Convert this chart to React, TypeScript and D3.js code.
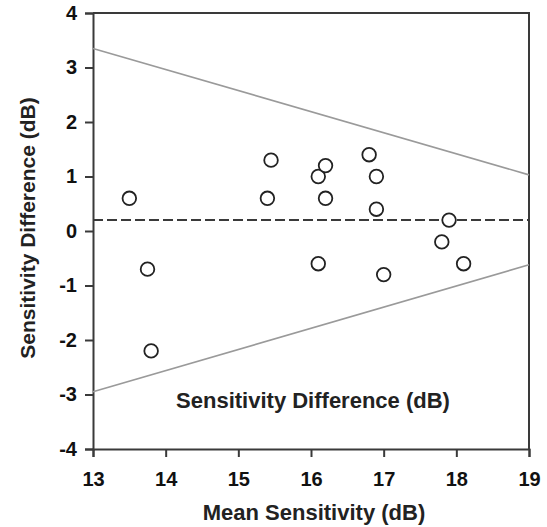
import React, { useEffect, useRef } from 'react';
import * as d3 from 'd3';

// mean sensitivity (dB) and difference (dB) for each eye
const meanSensitivity = [13.5, 13.75, 13.8, 15.4, 15.45, 16.1, 16.2, 16.2, 16.1, 16.8, 16.9, 16.9, 17.0, 17.9, 17.8, 18.1];
const sensitivityDiff = [0.6, -0.7, -2.2, 0.6, 1.3, 1.0, 1.2, 0.6, -0.6, 1.4, 1.0, 0.4, -0.8, 0.2, -0.2, -0.6];

const meanDiff = 0.2;
const upperLimit = [3.35, 1.03]; // at x=13 and x=19
const lowerLimit = [-2.95, -0.62];

const xTicks = [13, 14, 15, 16, 17, 18, 19];
const yTicks = [-4, -3, -2, -1, 0, 1, 2, 3, 4];

const App = () => {
  const ref = useRef<SVGSVGElement | null>(null);
  const W = 547;
  const H = 527;
  const margin = { top: 13, right: 18, bottom: 78, left: 93 };

  useEffect(() => {
    const svg = d3.select(ref.current);
    svg.selectAll('*').remove();

    const x = d3.scaleLinear().domain([13, 19]).range([margin.left, W - margin.right]);
    const y = d3.scaleLinear().domain([-4, 4]).range([H - margin.bottom, margin.top]);
    const axisColor = '#3a3a3a';
    const font = "'Liberation Sans', Arial, sans-serif";

    // frame top + right
    svg.append('path')
      .attr('d', `M${x(13)},${y(4)}H${x(19)}V${y(-4)}`)
      .attr('fill', 'none')
      .attr('stroke', axisColor)
      .attr('stroke-width', 2);

    // x axis
    const xAxis = svg.append('g')
      .attr('transform', `translate(0,${y(-4)})`)
      .call(d3.axisBottom(x).tickValues(xTicks).tickSize(8).tickFormat(d => String(d)));
    xAxis.select('.domain').attr('stroke', axisColor).attr('stroke-width', 2);
    xAxis.selectAll('.tick line').attr('stroke', axisColor).attr('stroke-width', 2);
    xAxis.selectAll('.tick text')
      .attr('y', 23)
      .attr('fill', '#111')
      .style('font-family', font)
      .style('font-size', '20px')
      .style('font-weight', 'bold');

    // y axis
    const yAxis = svg.append('g')
      .attr('transform', `translate(${x(13)},0)`)
      .call(d3.axisLeft(y).tickValues(yTicks).tickSize(8).tickFormat(d => String(d)));
    yAxis.select('.domain').attr('stroke', axisColor).attr('stroke-width', 2);
    yAxis.selectAll('.tick line').attr('stroke', axisColor).attr('stroke-width', 2);
    yAxis.selectAll('.tick text')
      .attr('x', -16)
      .attr('fill', '#111')
      .style('font-family', font)
      .style('font-size', '20px')
      .style('font-weight', 'bold');

    // limits of agreement
    const line = d3.line<[number, number]>().x(d => x(d[0])).y(d => y(d[1]));
    [upperLimit, lowerLimit].forEach(lim => {
      svg.append('path')
        .attr('d', line([[13, lim[0]], [19, lim[1]]]))
        .attr('fill', 'none')
        .attr('stroke', '#9a9a9a')
        .attr('stroke-width', 1.6);
    });

    // mean difference
    svg.append('path')
      .attr('d', line([[13, meanDiff], [19, meanDiff]]))
      .attr('fill', 'none')
      .attr('stroke', '#3a3a3a')
      .attr('stroke-width', 2)
      .attr('stroke-dasharray', '10,4');

    // points
    svg.append('g')
      .selectAll('circle')
      .data(meanSensitivity.map((m, i) => [m, sensitivityDiff[i]]))
      .join('circle')
      .attr('cx', d => x(d[0]))
      .attr('cy', d => y(d[1]))
      .attr('r', 6.8)
      .attr('fill', 'white')
      .attr('stroke', '#222')
      .attr('stroke-width', 1.8);

    // labels
    const label = (t: string) =>
      svg.append('text')
        .attr('text-anchor', 'middle')
        .attr('fill', '#222')
        .style('font-family', font)
        .style('font-weight', 'bold')
        .text(t);

    label('Sensitivity Difference (dB)')
      .attr('x', 313)
      .attr('y', 408)
      .style('font-size', '22px');

    label('Mean Sensitivity (dB)')
      .attr('x', 314)
      .attr('y', 520)
      .style('font-size', '22px');

    label('Sensitivity Difference (dB)')
      .attr('transform', 'translate(35,228) rotate(-90)')
      .style('font-size', '21px');
  }, []);

  return (
    <div style={{ position: 'absolute', left: 0, top: 0 }}>
      <svg ref={ref} width={W} height={H} style={{ display: 'block', background: 'white' }} />
    </div>
  );
};

export default App;
